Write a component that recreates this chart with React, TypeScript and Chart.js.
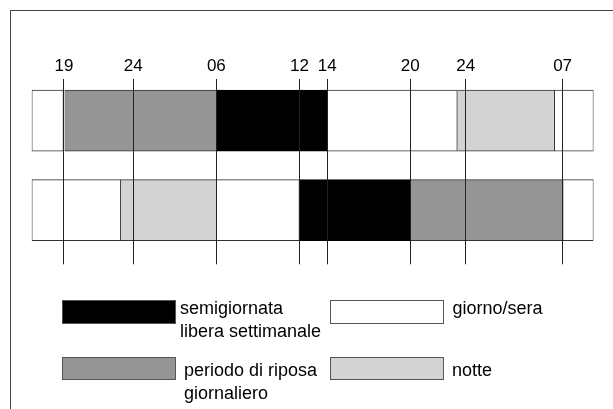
import React, { useEffect, useRef } from "react";
import { Chart, registerables } from "chart.js";

Chart.register(...registerables);

// Hours counted from 19:00 of the first day
const tickHours = [0, 5, 11, 17, 19, 25, 29, 36];
const tickLabels = ["19", "24", "06", "12", "14", "20", "24", "07"];
const axisMin = -2.33;
const axisMax = 38.23;

const rows = [1, 2];

// giorno/sera (white) segments: [row, start, end]
const dayRow = [1, 1, 1, 2, 2, 2];
const dayStart = [-2.33, 19, 35.4, -2.33, 11, 36];
const dayEnd = [0, 28.4, 38.23, 4.1, 17, 38.23];

// periodo di riposo giornaliero (grey)
const restStart = [0, 25];
const restEnd = [11, 36];

// semigiornata libera settimanale (black)
const halfDayStart = [11, 17];
const halfDayEnd = [19, 25];

// notte (light grey)
const nightStart = [28.4, 4.1];
const nightEnd = [35.4, 11];

const legendItems = [
  { label: "semigiornata\nlibera settimanale", color: "#000000" },
  { label: "giorno/sera", color: "#ffffff" },
  { label: "periodo di riposa\ngiornaliero", color: "#959595" },
  { label: "notte", color: "#d3d3d3" },
];

const FONT = "'Liberation Sans', Arial, sans-serif";

export default function App() {
  const ref = useRef<HTMLCanvasElement | null>(null);

  useEffect(() => {
    if (!ref.current) return;
    const segBorder = { top: 1, bottom: 1, left: 0, right: 0 };
    const chart = new Chart(ref.current, {
      type: "bar",
      data: {
        datasets: [
          {
            label: "giorno/sera",
            data: dayRow.map((r, i) => ({ x: [dayStart[i], dayEnd[i]], y: r })) as any,
            backgroundColor: "#ffffff",
            borderColor: "#333333",
            borderWidth: 1,
            borderSkipped: false,
            barThickness: 61,
          },
          {
            label: "periodo di riposa giornaliero",
            data: rows.map((r, i) => ({ x: [restStart[i], restEnd[i]], y: r })) as any,
            backgroundColor: "#959595",
            borderColor: "#333333",
            borderWidth: segBorder as any,
            borderSkipped: false,
            barThickness: 61,
          },
          {
            label: "semigiornata libera settimanale",
            data: rows.map((r, i) => ({ x: [halfDayStart[i], halfDayEnd[i]], y: r })) as any,
            backgroundColor: "#000000",
            borderColor: "#000000",
            borderWidth: segBorder as any,
            borderSkipped: false,
            barThickness: 61,
          },
          {
            label: "notte",
            data: rows.map((r, i) => ({ x: [nightStart[i], nightEnd[i]], y: r })) as any,
            backgroundColor: "#d3d3d3",
            borderColor: "#333333",
            borderWidth: segBorder as any,
            borderSkipped: false,
            barThickness: 61,
          },
        ],
      },
      options: {
        indexAxis: "y",
        responsive: false,
        animation: false,
        devicePixelRatio: 1,
        layout: { padding: { left: 31.7, right: 19.5, top: 53.3, bottom: 144.7 } },
        plugins: { legend: { display: false }, tooltip: { enabled: false } },
        scales: {
          x: {
            type: "linear",
            position: "top",
            min: axisMin,
            max: axisMax,
            border: { display: false },
            grid: { color: "#222222", lineWidth: 1, drawTicks: false, z: 1 } as any,
            afterBuildTicks: (scale: any) => {
              scale.ticks = tickHours.map((v) => ({ value: v }));
            },
            ticks: {
              autoSkip: false,
              maxRotation: 0,
              padding: 2.5,
              color: "#000000",
              font: { family: FONT, size: 17 },
              callback: (_v: any, i: number) => tickLabels[i],
            },
          },
          y: {
            type: "linear",
            reverse: true,
            offset: false,
            min: 0.53,
            max: 2.607,
            stacked: true,
            display: false,
          },
        },
      },
    });
    return () => chart.destroy();
  }, []);

  const box = (x: number, y: number, w: number, h: number, color: string) => (
    <div
      style={{
        position: "absolute",
        left: x,
        top: y,
        width: w,
        height: h,
        boxSizing: "border-box",
        background: color,
        border: "1px solid #555555",
      }}
    />
  );

  const text = (x: number, y: number, lh: number, s: string) => (
    <div
      style={{
        position: "absolute",
        left: x,
        top: y,
        lineHeight: lh + "px",
        fontFamily: FONT,
        fontSize: 18,
        color: "#000",
        whiteSpace: "pre",
      }}
    >
      {s}
    </div>
  );

  return (
    <div style={{ position: "absolute", left: 0, top: 0, width: 613, height: 409, overflow: "hidden", background: "#fff" }}>
      <div
        style={{
          position: "absolute",
          left: 10,
          top: 10,
          width: 700,
          height: 500,
          borderLeft: "1px solid #444444",
          borderTop: "1px solid #444444",
        }}
      />
      <canvas ref={ref} width={613} height={409} style={{ position: "absolute", left: 0, top: 0, width: 613, height: 409 }} />
      {box(62, 300, 114, 24, legendItems[0].color)}
      {text(180, 297.3, 23, legendItems[0].label)}
      {box(330, 300, 114, 24, legendItems[1].color)}
      {text(452.5, 296.5, 23, legendItems[1].label)}
      {box(62, 357, 114, 23, legendItems[2].color)}
      {text(184, 359, 22.6, legendItems[2].label)}
      {box(330, 357, 114, 23, legendItems[3].color)}
      {text(452, 358.5, 22.6, legendItems[3].label)}
    </div>
  );
}
